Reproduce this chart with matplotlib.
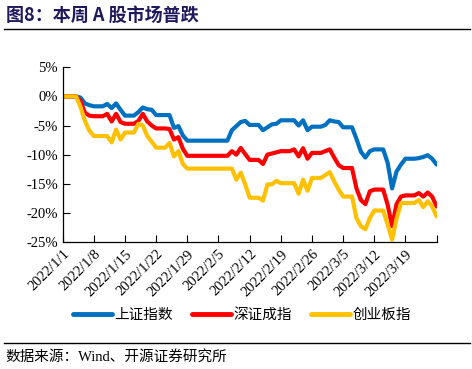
import matplotlib
matplotlib.use("Agg")
import matplotlib.pyplot as plt
from matplotlib.lines import Line2D

plt.rcParams['font.family'] = ['Liberation Serif', 'Noto Sans CJK SC']

# 2021/12/31 起每个自然日一个点（周末、节假日沿用前值），单位 %
SH = [0,
      0, 0, 0, -0.2, -1.2, -1.5, -1.7,
      -1.7, -1.7, -1.3, -2.0, -1.2, -2.3, -3.3,
      -3.3, -3.3, -2.7, -1.9, -2.2, -2.3, -3.2,
      -3.2, -3.2, -3.2, -5.4, -5.1, -6.7, -7.6,
      -7.6, -7.6, -7.6, -7.6, -7.6, -7.6, -7.6,
      -7.6, -7.6, -5.8, -5.1, -4.4, -4.2, -4.9,
      -4.9, -4.9, -5.8, -5.3, -4.8, -4.7, -4.1,
      -4.1, -4.1, -4.1, -5.0, -4.1, -5.8, -5.2,
      -5.2, -5.2, -4.9, -4.1, -4.3, -4.4, -5.3,
      -5.3, -5.3, -7.3, -9.5, -10.5, -9.4, -9.1,
      -9.1, -9.1, -11.4, -15.8, -12.9, -11.7, -10.7,
      -10.7, -10.7, -10.6, -10.4, -10.1, -10.7, -11.7]

SZ = [0,
      0, 0, 0, -0.8, -2.8, -3.3, -3.4,
      -3.4, -3.4, -3.0, -4.3, -3.0, -4.4, -4.7,
      -4.7, -4.7, -4.2, -3.0, -4.3, -5.0, -5.5,
      -5.5, -5.5, -5.6, -7.4, -7.0, -9.0, -10.2,
      -10.2, -10.2, -10.2, -10.2, -10.2, -10.2, -10.2,
      -10.2, -10.2, -9.4, -10.0, -8.85, -9.9, -10.9,
      -10.9, -10.9, -11.6, -10.0, -9.8, -9.6, -9.4,
      -9.4, -9.4, -9.1, -10.3, -8.9, -10.7, -9.7,
      -9.7, -9.7, -9.4, -9.1, -10.5, -11.8, -12.3,
      -12.3, -12.3, -15.8, -17.8, -18.5, -16.3, -16.0,
      -16.0, -16.0, -18.6, -22.3, -18.5, -17.2, -17.0,
      -17.0, -17.0, -16.6, -17.2, -16.5, -17.2, -18.9]

CYB = [0,
       0, 0, 0, -1.8, -4.2, -5.9, -6.8,
       -6.8, -6.8, -6.8, -7.9, -5.7, -7.4, -6.2,
       -6.2, -6.2, -4.7, -5.0, -6.8, -7.8, -8.8,
       -8.8, -8.8, -8.0, -10.3, -9.4, -11.6, -12.4,
       -12.4, -12.4, -12.4, -12.4, -12.4, -12.4, -12.4,
       -12.4, -12.4, -12.4, -14.3, -13.1, -15.1, -17.4,
       -17.4, -17.4, -17.9, -15.1, -15.1, -14.5, -14.9,
       -14.9, -14.9, -14.9, -16.7, -14.3, -16.2, -14.0,
       -14.0, -14.0, -13.5, -13.0, -14.6, -16.0, -17.2,
       -17.2, -17.2, -20.9, -22.3, -22.8, -20.9, -19.6,
       -19.6, -19.6, -22.0, -24.6, -21.0, -18.3, -18.3,
       -18.3, -18.3, -17.8, -19.0, -18.0, -18.9, -20.6]

SERIES_NAMES = ['上证指数', '深证成指', '创业板指']
COLORS = ['#0070C0', '#FF0000', '#FFC000']
TICK_LABELS = ['2022/1/1', '2022/1/8', '2022/1/15', '2022/1/22', '2022/1/29',
               '2022/2/5', '2022/2/12', '2022/2/19', '2022/2/26', '2022/3/5',
               '2022/3/12', '2022/3/19']
YTICKS = [5, 0, -5, -10, -15, -20, -25]

fig = plt.figure(figsize=(4.72, 3.69), dpi=100)
ax = fig.add_axes([0.1328, 0.3442, 0.7922, 0.4734])

x = list(range(len(SH)))
for vals, c in zip([SH, SZ, CYB], COLORS):
    ax.plot(x, vals, color=c, lw=3.0, solid_joinstyle='round', solid_capstyle='round')

ax.set_xlim(0, 84)
ax.set_ylim(-25, 5)
ax.set_yticks(YTICKS)
ax.set_yticklabels([f'{v}%' for v in YTICKS])
ax.set_xticks(range(0, 85, 7))
ax.set_xticklabels(TICK_LABELS + [''], rotation=45, ha='right', rotation_mode='anchor')
ax.tick_params(direction='in', length=5, width=0.8, labelsize=10.5, colors='black')
ax.tick_params(axis='x', pad=4)
for s in ['top', 'right']:
    ax.spines[s].set_visible(False)
for s in ['left', 'bottom']:
    ax.spines[s].set_linewidth(0.9)

handles = [Line2D([], [], color=c, lw=3.5, solid_capstyle='round') for c in COLORS]
fig.legend(handles, SERIES_NAMES, loc='center', bbox_to_anchor=(0.512, 0.147), ncol=3,
           frameon=False, handlelength=2.7, handletextpad=0.15, columnspacing=1.3,
           prop={'family': ['Noto Sans CJK SC'], 'size': 10.5})

# 标题与页脚
fig.text(0.012, 0.958, '图8：本周 A 股市场普跌', fontsize=13, fontweight='bold',
         color='#1F1A5C', family=['Noto Sans CJK SC'], va='center', ha='left')
fig.add_artist(Line2D([0.008, 0.995], [0.921, 0.921], color='black', lw=1.0))
fig.add_artist(Line2D([0.008, 0.995], [0.070, 0.070], color='black', lw=1.0))
fig.text(0.012, 0.032, '数据来源：Wind、开源证券研究所', fontsize=10.5,
         family=['Liberation Serif', 'Noto Sans CJK SC'], va='center', ha='left')

fig.savefig('out.png', dpi=100)
